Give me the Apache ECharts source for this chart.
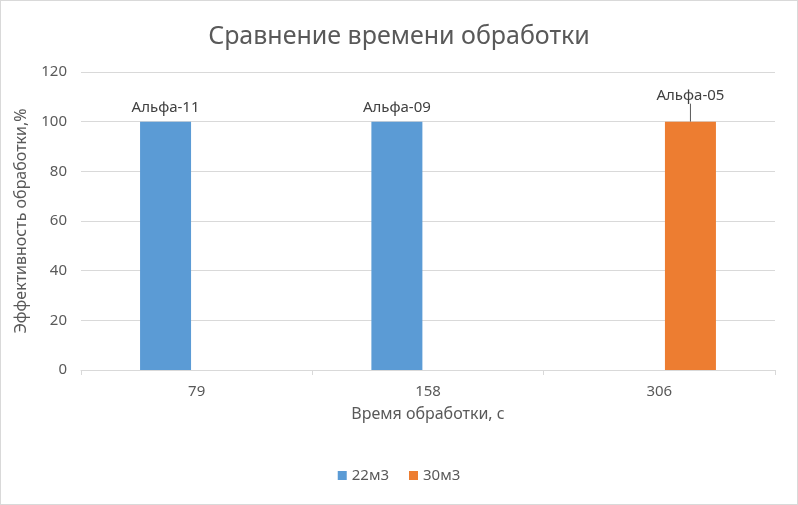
<!DOCTYPE html>
<html>
<head>
<meta charset="utf-8">
<script src="https://cdn.jsdelivr.net/npm/echarts@6/dist/echarts.min.js"></script>
<style>
html,body{margin:0;padding:0;background:#fff;}
#container{width:796px;height:503px;border:1px solid #d9d9d9;}
</style>
</head>
<body>
<div id="container"></div>
<script>
var categories = ['79', '158', '306'];
var series22 = [100, 100, '-'];
var series30 = ['-', '-', 100];
var labels22 = ['Альфа-11', 'Альфа-09', ''];
var labels30 = ['', '', 'Альфа-05'];

var myChart = echarts.init(document.getElementById('container'), null, { renderer: 'canvas' });
var textColor = '#595959';
var font = '"Noto Sans", "Open Sans", sans-serif';

var option = {
    backgroundColor: '#fff',
    textStyle: { fontFamily: font },
    title: {
        text: 'Сравнение времени обработки',
        left: 'center',
        top: 18,
        textStyle: { fontSize: 25, fontWeight: 'normal', color: textColor, fontFamily: font }
    },
    legend: {
        bottom: 16,
        icon: 'rect',
        itemWidth: 9,
        itemHeight: 9,
        itemGap: 20,
        textStyle: { fontSize: 15, color: textColor },
        data: ['22м3', '30м3']
    },
    grid: { left: 80, right: 22, top: 71, bottom: 134 },
    xAxis: {
        type: 'category',
        data: categories,
        name: 'Время обработки, с',
        nameLocation: 'middle',
        nameGap: 36,
        nameTextStyle: { fontSize: 16, color: textColor },
        axisLine: { lineStyle: { color: '#d9d9d9' } },
        axisTick: { show: true, length: 5, lineStyle: { color: '#d9d9d9' } },
        axisLabel: { fontSize: 15, color: textColor, margin: 14 }
    },
    yAxis: {
        type: 'value',
        min: 0,
        max: 120,
        interval: 20,
        name: 'Эффективность обработки,%',
        nameLocation: 'middle',
        nameGap: 52,
        nameTextStyle: { fontSize: 16, color: textColor },
        axisLine: { show: false },
        axisLabel: { fontSize: 15, color: textColor, margin: 14 },
        splitLine: { lineStyle: { color: '#d9d9d9' } }
    },
    series: [
        {
            name: '22м3',
            type: 'bar',
            barWidth: 51,
            barGap: '22%',
            itemStyle: { color: '#5b9bd5' },
            label: {
                show: true, position: 'top', distance: 6, fontSize: 15, color: '#404040',
                formatter: function (p) { return labels22[p.dataIndex]; }
            },
            data: series22
        },
        {
            name: '30м3',
            type: 'bar',
            barWidth: 51,
            itemStyle: { color: '#ed7d31' },
            label: {
                show: true, position: 'top', distance: 6, fontSize: 15, color: '#404040',
                formatter: function (p) { return labels30[p.dataIndex]; }
            },
            labelLayout: { dy: -12 },
            labelLine: { show: true, lineStyle: { color: '#595959', width: 1 } },
            data: series30
        }
    ]
};

myChart.setOption(option);
window.addEventListener('resize', myChart.resize);
</script>
</body>
</html>
